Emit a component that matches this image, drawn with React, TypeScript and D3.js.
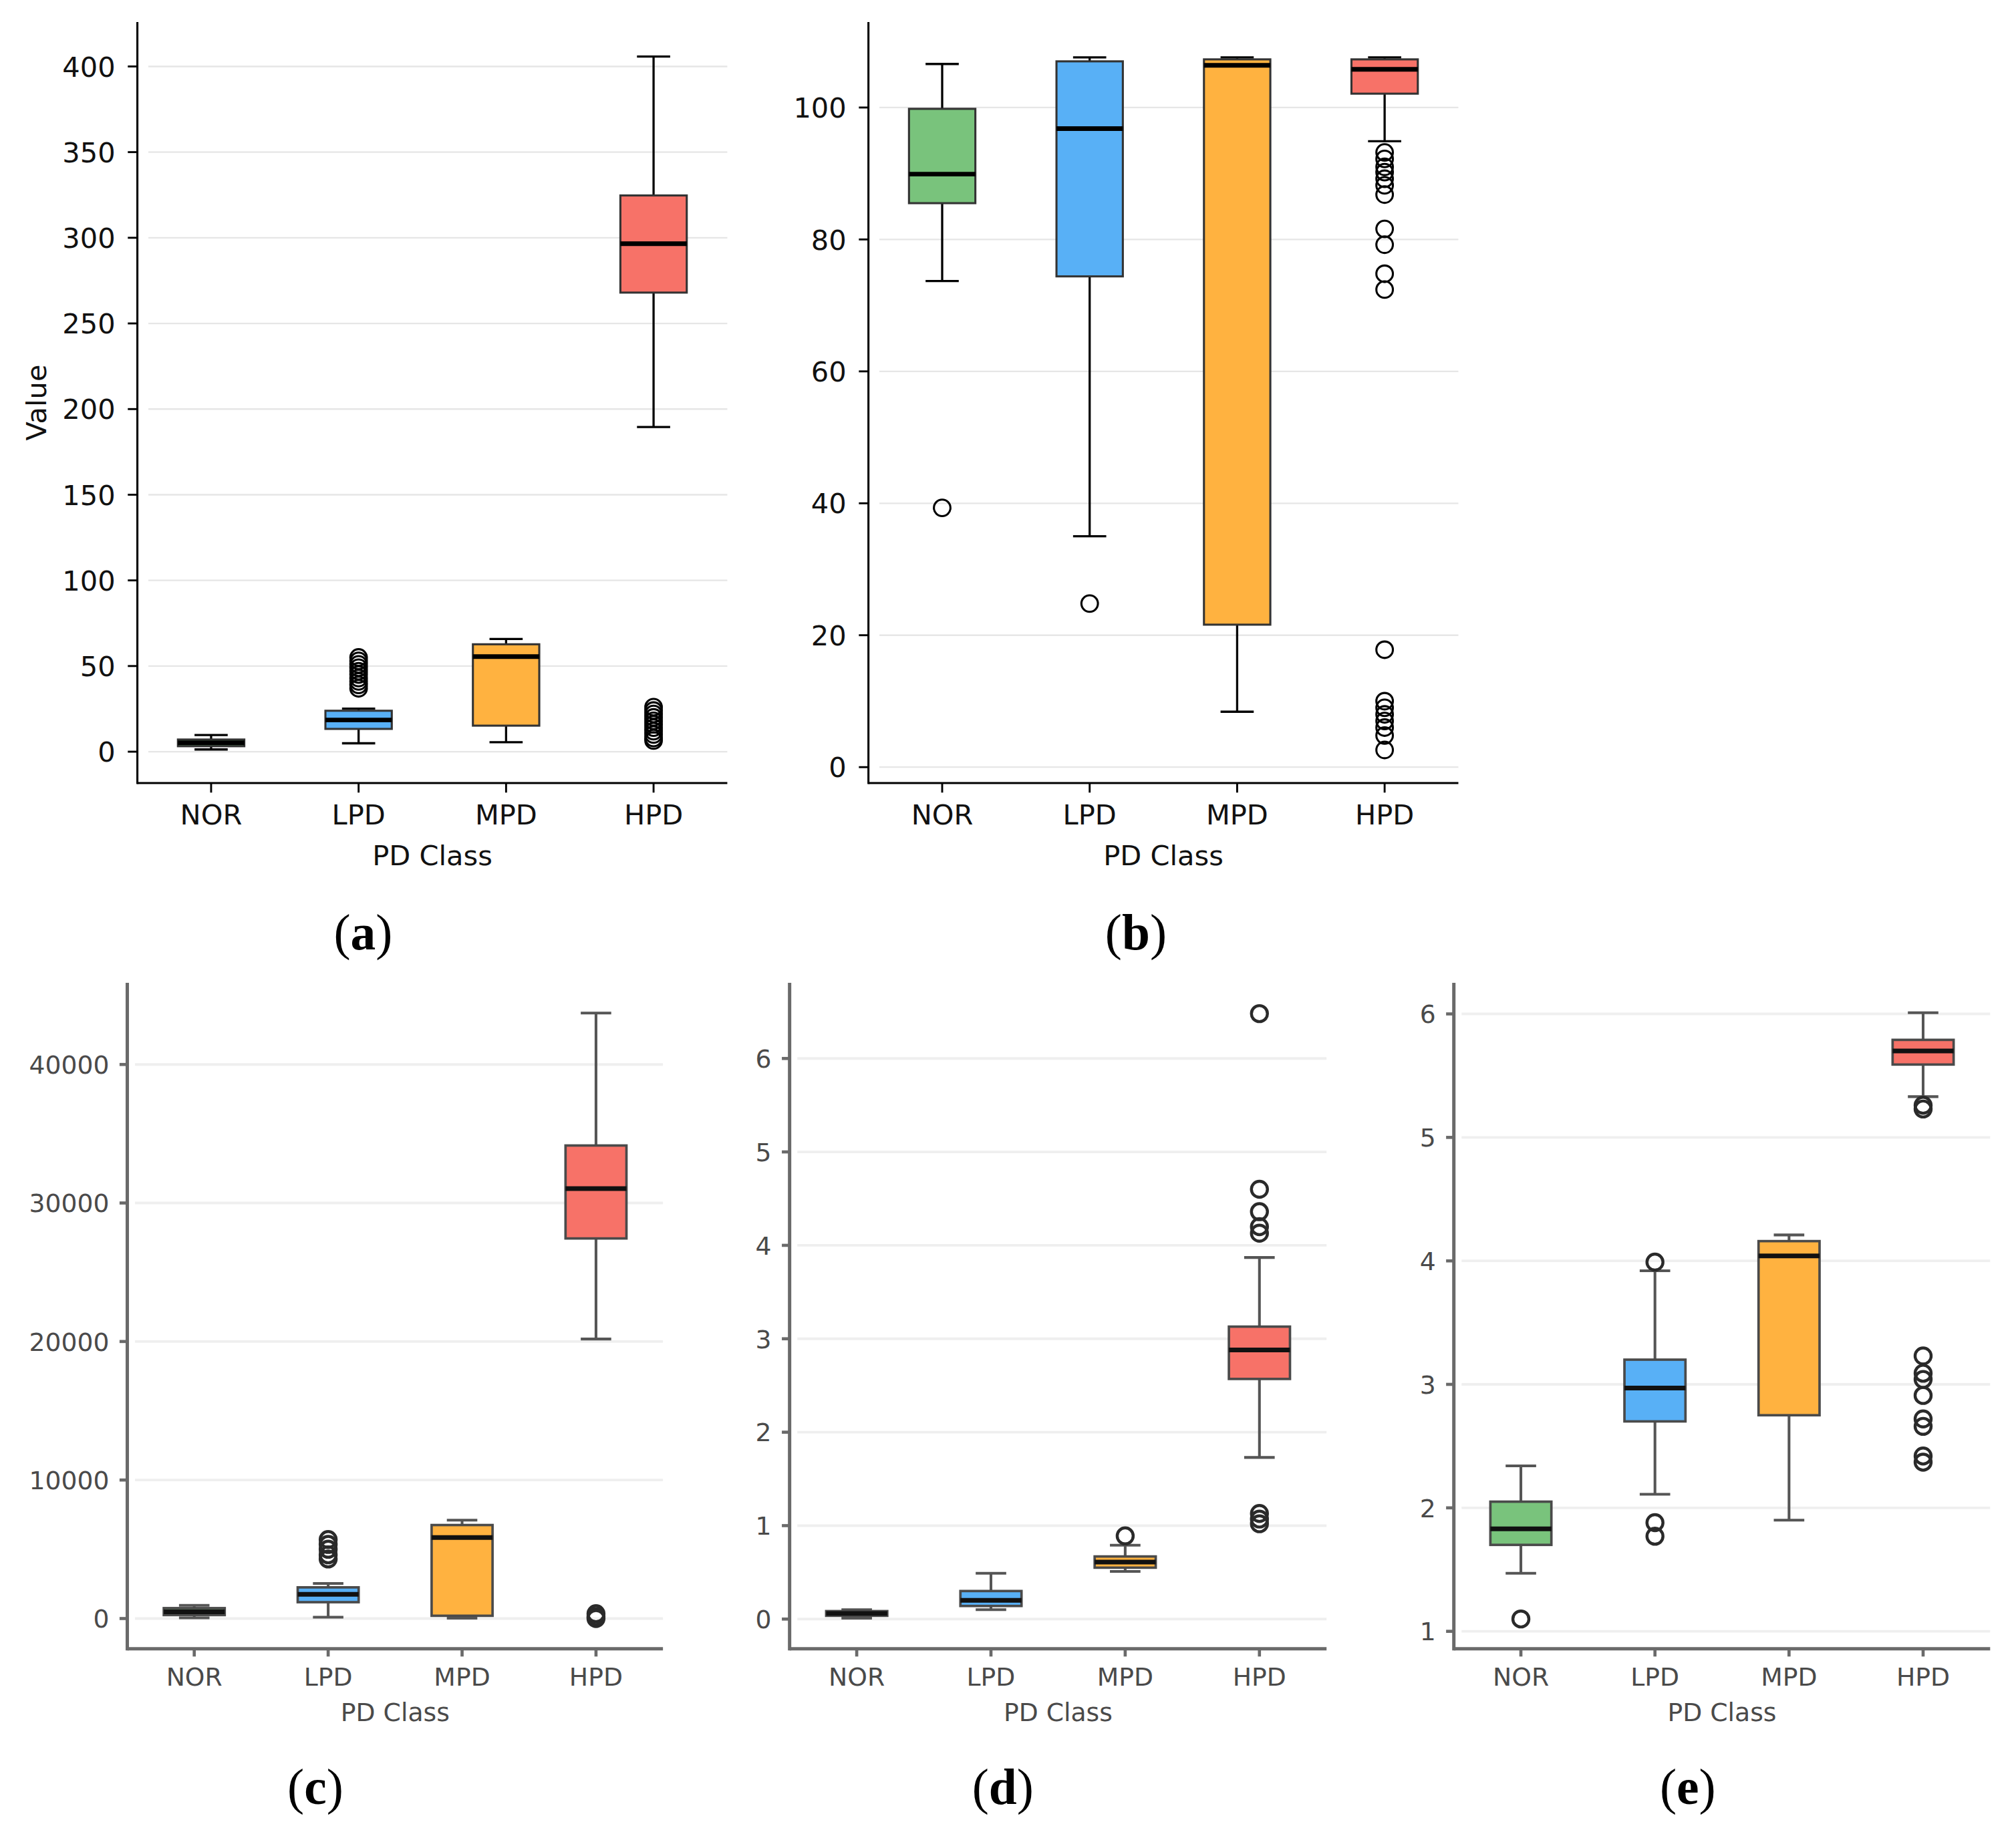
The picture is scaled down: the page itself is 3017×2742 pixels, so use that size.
import * as d3 from "d3";

// Box-plot values
const categories = ["NOR", "LPD", "MPD", "HPD"];

type BoxStat = { lo: number; q1: number; med: number; q3: number; hi: number; out: number[] };

const statsA: BoxStat[] = [
  { lo: 1.3, q1: 3.2, med: 5.2, q3: 7.1, hi: 9.7, out: [] },
  { lo: 4.9, q1: 13.3, med: 18.5, q3: 23.9, hi: 25.1, out: [55, 53, 51, 49, 47, 45, 43, 41, 39, 37] },
  { lo: 5.5, q1: 15.2, med: 55.5, q3: 62.7, hi: 65.8, out: [] },
  { lo: 189.5, q1: 268, med: 296.5, q3: 324.7, hi: 405.8, out: [26, 24, 22, 20, 18, 16, 14, 12, 10, 8, 6.5] },
];

const statsB: BoxStat[] = [
  { lo: 73.7, q1: 85.5, med: 89.9, q3: 99.8, hi: 106.6, out: [39.3] },
  { lo: 35.0, q1: 74.4, med: 96.8, q3: 107.0, hi: 107.6, out: [24.8] },
  { lo: 8.4, q1: 21.6, med: 106.4, q3: 107.3, hi: 107.6, out: [] },
  {
    lo: 94.9, q1: 102.1, med: 105.8, q3: 107.3, hi: 107.6,
    out: [93.2, 92.2, 91.0, 90.2, 89.2, 88.2, 86.8, 81.6, 79.2, 74.8, 72.4, 17.8, 10.0, 9.0, 8.0, 7.0, 6.0, 4.8, 2.6],
  },
];

const statsC: BoxStat[] = [
  { lo: 50, q1: 250, med: 480, q3: 750, hi: 950, out: [] },
  { lo: 100, q1: 1180, med: 1750, q3: 2250, hi: 2530, out: [5700, 5350, 5000, 4600, 4300] },
  { lo: 30, q1: 200, med: 5850, q3: 6750, hi: 7100, out: [] },
  { lo: 20180, q1: 27440, med: 31040, q3: 34150, hi: 43710, out: [350, 150, 0] },
];

const statsD: BoxStat[] = [
  { lo: 0.01, q1: 0.035, med: 0.06, q3: 0.085, hi: 0.1, out: [] },
  { lo: 0.1, q1: 0.14, med: 0.2, q3: 0.3, hi: 0.49, out: [] },
  { lo: 0.51, q1: 0.55, med: 0.61, q3: 0.67, hi: 0.79, out: [0.89] },
  { lo: 1.73, q1: 2.57, med: 2.88, q3: 3.13, hi: 3.87, out: [6.48, 4.6, 4.36, 4.2, 4.13, 1.13, 1.07, 1.02] },
];

const statsE: BoxStat[] = [
  { lo: 1.47, q1: 1.7, med: 1.83, q3: 2.05, hi: 2.34, out: [1.1] },
  { lo: 2.11, q1: 2.7, med: 2.97, q3: 3.2, hi: 3.92, out: [3.99, 1.88, 1.77] },
  { lo: 1.9, q1: 2.75, med: 4.04, q3: 4.16, hi: 4.21, out: [] },
  { lo: 5.33, q1: 5.59, med: 5.7, q3: 5.79, hi: 6.01, out: [5.26, 5.23, 3.23, 3.09, 3.04, 2.91, 2.72, 2.66, 2.42, 2.37] },
];

const ticksA = [0, 50, 100, 150, 200, 250, 300, 350, 400];
const ticksB = [0, 20, 40, 60, 80, 100];
const ticksC = [0, 10000, 20000, 30000, 40000];
const ticksD = [0, 1, 2, 3, 4, 5, 6];
const ticksE = [1, 2, 3, 4, 5, 6];

// material colours at 0.75 alpha on white
const boxColors = ["#79c37c", "#58b0f6", "#ffb240", "#f77268"];

const W = 3017;
const H = 2742;
const VW = 1560;
const VH = VW * (H / W);

type Look = "sharp" | "soft";

const looks = {
  sharp: {
    spine: "#000", spineW: 1.6, tickW: 1.5, tickLen: 7.4, text: "#111", fs: 21.5,
    grid: "#e6e6e6", gridW: 1.2, gridInset: 8.5, edge: "#333", edgeW: 1.6,
    whisker: "#000", whiskerW: 1.7, median: "#000", medianW: 3.6,
    flier: "#000", flierW: 1.6, flierR: 6.4, boxFrac: 0.45, labelGap: 17,
  },
  soft: {
    spine: "#6a6a6a", spineW: 2.6, tickW: 2.4, tickLen: 6, text: "#4a4a4a", fs: 19.5,
    grid: "#efefef", gridW: 2, gridInset: 6, edge: "#4a4a4a", edgeW: 1.9,
    whisker: "#555", whiskerW: 2.1, median: "#111", medianW: 3.6,
    flier: "#2a2a2a", flierW: 2.3, flierR: 6.2, boxFrac: 0.455, labelGap: 14,
  },
};

type PanelProps = {
  letter: string;
  stats: BoxStat[];
  ticks: number[];
  fmt: (v: number) => string;
  x0: number;
  x1: number;
  yTop: number;
  yBottom: number;
  ylim: [number, number];
  look: Look;
  yLabel?: string;
  xLabelY: number;
  titleY: number;
  letterX: number;
  letterY: number;
};

const Panel = ({ letter, stats, ticks, fmt, x0, x1, yTop, yBottom, ylim, look, yLabel, xLabelY, titleY, letterX, letterY }: PanelProps) => {
  const L = looks[look];
  const x = d3.scalePoint<string>().domain(categories).range([x0, x1]).padding(0.5);
  const y = d3.scaleLinear().domain(ylim).range([yBottom, yTop]);
  const bw = x.step() * L.boxFrac;
  const capW = bw / 2;
  const font = "DejaVu Sans, Verdana, sans-serif";

  return (
    <g>
      {/* grid */}
      {ticks.map((t) => (
        <line key={`g${t}`} x1={x0 + L.gridInset} x2={x1} y1={y(t)} y2={y(t)} stroke={L.grid} strokeWidth={L.gridW} />
      ))}

      {/* boxes */}
      {stats.map((s, i) => {
        const cx = x(categories[i]) as number;
        return (
          <g key={categories[i]}>
            <line x1={cx} x2={cx} y1={y(s.q3)} y2={y(s.hi)} stroke={L.whisker} strokeWidth={L.whiskerW} />
            <line x1={cx} x2={cx} y1={y(s.q1)} y2={y(s.lo)} stroke={L.whisker} strokeWidth={L.whiskerW} />
            <line x1={cx - capW / 2} x2={cx + capW / 2} y1={y(s.hi)} y2={y(s.hi)} stroke={L.whisker} strokeWidth={L.whiskerW} />
            <line x1={cx - capW / 2} x2={cx + capW / 2} y1={y(s.lo)} y2={y(s.lo)} stroke={L.whisker} strokeWidth={L.whiskerW} />
            <rect
              x={cx - bw / 2}
              y={y(s.q3)}
              width={bw}
              height={Math.max(0.5, y(s.q1) - y(s.q3))}
              fill={boxColors[i]}
              stroke={L.edge}
              strokeWidth={L.edgeW}
            />
            <line x1={cx - bw / 2} x2={cx + bw / 2} y1={y(s.med)} y2={y(s.med)} stroke={L.median} strokeWidth={L.medianW} />
            {s.out.map((o, j) => (
              <circle key={j} cx={cx} cy={y(o)} r={L.flierR} fill="none" stroke={L.flier} strokeWidth={L.flierW} />
            ))}
          </g>
        );
      })}

      {/* spines */}
      <line x1={x0} x2={x0} y1={yTop} y2={yBottom + L.spineW / 2} stroke={L.spine} strokeWidth={L.spineW} />
      <line x1={x0} x2={x1} y1={yBottom} y2={yBottom} stroke={L.spine} strokeWidth={L.spineW} />

      {/* y ticks */}
      {ticks.map((t) => (
        <g key={`t${t}`}>
          <line x1={x0 - L.tickLen} x2={x0} y1={y(t)} y2={y(t)} stroke={L.spine} strokeWidth={L.tickW} />
          <text
            x={x0 - L.labelGap}
            y={y(t) + L.fs * 0.365}
            textAnchor="end"
            fontFamily={font}
            fontSize={L.fs}
            fill={L.text}
          >
            {fmt(t)}
          </text>
        </g>
      ))}

      {/* x ticks */}
      {categories.map((c) => (
        <g key={c}>
          <line x1={x(c)} x2={x(c)} y1={yBottom} y2={yBottom + L.tickLen} stroke={L.spine} strokeWidth={L.tickW} />
          <text x={x(c)} y={xLabelY + L.fs * 0.365} textAnchor="middle" fontFamily={font} fontSize={L.fs} fill={L.text}>
            {c}
          </text>
        </g>
      ))}

      <text x={(x0 + x1) / 2} y={titleY + L.fs * 0.365} textAnchor="middle" fontFamily={font} fontSize={L.fs} fill={L.text}>
        PD Class
      </text>

      {yLabel && (
        <text
          transform={`translate(${35.7},${(yTop + yBottom) / 2}) rotate(-90)`}
          textAnchor="middle"
          fontFamily={font}
          fontSize={L.fs}
          fill={L.text}
        >
          {yLabel}
        </text>
      )}

      <text x={letterX} y={letterY} textAnchor="middle" fontFamily="Liberation Serif, Times New Roman, serif" fontSize={39} fill="#000">
        (<tspan fontWeight="bold">{letter}</tspan>)
      </text>
    </g>
  );
};

const plain = d3.format("d");

export default function App() {
  return (
    <svg
      width={W}
      height={H}
      viewBox={`0 0 ${VW} ${VH}`}
      style={{ position: "absolute", left: 0, top: 0, background: "#fff" }}
    >
      <rect x={0} y={0} width={VW} height={VH} fill="#fff" />
      <Panel
        letter="a" stats={statsA} ticks={ticksA} fmt={plain}
        x0={106.3} x1={562.8} yTop={17.1} yBottom={606} ylim={[-18.3, 425.9]}
        look="sharp" yLabel="Value" xLabelY={630.2} titleY={661.5} letterX={281} letterY={734.5}
      />
      <Panel
        letter="b" stats={statsB} ticks={ticksB} fmt={plain}
        x0={672} x1={1128.5} yTop={17.1} yBottom={606} ylim={[-2.41, 112.95]}
        look="sharp" xLabelY={630.2} titleY={661.5} letterX={879} letterY={734.5}
      />
      <Panel
        letter="c" stats={statsC} ticks={ticksC} fmt={plain}
        x0={98.5} x1={513} yTop={760.6} yBottom={1276} ylim={[-2183, 45896]}
        look="soft" xLabelY={1297.3} titleY={1324.9} letterX={244} letterY={1396}
      />
      <Panel
        letter="d" stats={statsD} ticks={ticksD} fmt={plain}
        x0={611} x1={1026.5} yTop={760.6} yBottom={1276} ylim={[-0.318, 6.81]}
        look="soft" xLabelY={1297.3} titleY={1324.9} letterX={776} letterY={1396}
      />
      <Panel
        letter="e" stats={statsE} ticks={ticksE} fmt={plain}
        x0={1125} x1={1540} yTop={760.6} yBottom={1276} ylim={[0.8587, 6.252]}
        look="soft" xLabelY={1297.3} titleY={1324.9} letterX={1306} letterY={1396}
      />
    </svg>
  );
}
